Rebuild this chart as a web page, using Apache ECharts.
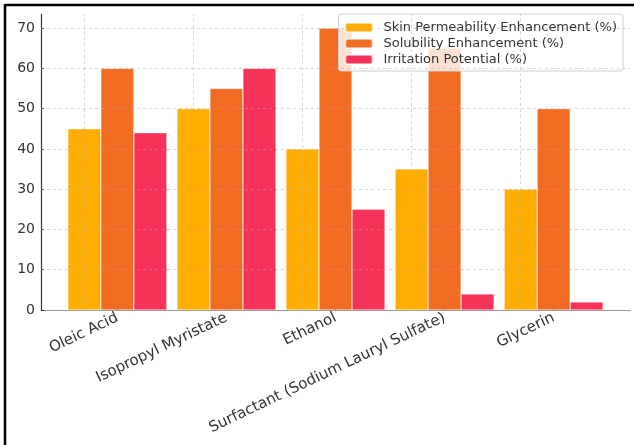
<!DOCTYPE html>
<html><head><meta charset="utf-8">
<script src="https://cdn.jsdelivr.net/npm/echarts@6/dist/echarts.min.js"></script>
<style>html,body{margin:0;padding:0;background:#fff}#c{width:634px;height:445px}</style>
</head><body><div id="c"></div>
<script>
const categories = ["Oleic Acid","Isopropyl Myristate","Ethanol","Surfactant (Sodium Lauryl Sulfate)","Glycerin"];
const seriesNames = ["Skin Permeability Enhancement (%)","Solubility Enhancement (%)","Irritation Potential (%)"];
const permeability = [45,50,40,35,30];
const solubility = [60,55,70,65,50];
const irritation = [44,60,25,4,2];
const yTicks = [0,10,20,30,40,50,60,70];
const colors = ["#FFAD00","#F26B22","#F53358"];

const chart = echarts.init(document.getElementById('c'));
const font = "'DejaVu Sans', sans-serif";
const toPairs = arr => arr.map((v,i)=>[i,v]);
const gridStyle = {color:'rgba(170,170,170,0.6)', type:[3,3], width:0.8};
const series = [permeability, solubility, irritation].map((arr,k)=>({
  name: seriesNames[k], type:'bar', data: toPairs(arr), barWidth:33, barGap:'0%',
  itemStyle:{color:colors[k], borderColor:'rgba(255,255,255,0.5)', borderWidth:0.6},
  silent:true
}));
series[0].markLine = {
  silent:true, symbol:'none', label:{show:false}, z:5, animation:false,
  lineStyle:gridStyle,
  data: categories.map((c,i)=>({xAxis:i})).concat(yTicks.filter(t=>t>0).map(t=>({yAxis:t})))
};
chart.setOption({
  animation:false,
  color: colors,
  textStyle:{fontFamily:font},
  grid:{left:41, right:4, top:14, bottom:135},
  legend:{
    orient:'vertical', right:11, top:14, itemWidth:27, itemHeight:9, itemGap:1,
    backgroundColor:'rgba(255,255,255,0.8)', borderColor:'#d0d0d0', borderWidth:1, borderRadius:3,
    padding:[6,6,4,6],
    textStyle:{fontSize:13, color:'#333', fontFamily:font, lineHeight:15, padding:[0,0,0,6]},
    data: seriesNames
  },
  xAxis:{
    type:'value', min:-0.7, max:4.7,
    axisLine:{show:true, onZero:false, lineStyle:{color:'#999', width:1.2}},
    axisTick:{show:true, inside:true, length:4, customValues:[0,1,2,3,4], lineStyle:{color:'#333', width:1.2}},
    axisLabel:{customValues:[0,1,2,3,4], formatter:v=>categories[Math.round(v)], rotate:25.5, fontSize:15, color:'#333', fontFamily:font, margin:7},
    splitLine:{show:false}
  },
  yAxis:{
    type:'value', min:0, max:73.5, interval:10,
    axisLine:{show:true, onZero:false, lineStyle:{color:'#333', width:1.2}},
    axisTick:{show:true, inside:true, length:3, lineStyle:{color:'#333', width:1}},
    axisLabel:{fontSize:14, color:'#333', fontFamily:font, margin:6, showMaxLabel:false},
    splitLine:{show:false}
  },
  graphic:[
    {type:'line', shape:{x1:5,y1:5,x2:634,y2:5}, style:{stroke:'#000', lineWidth:2.5}, z:100},
    {type:'line', shape:{x1:5,y1:4,x2:5,y2:445}, style:{stroke:'#000', lineWidth:2.5}, z:100}
  ],
  series: series
});
</script></body></html>
